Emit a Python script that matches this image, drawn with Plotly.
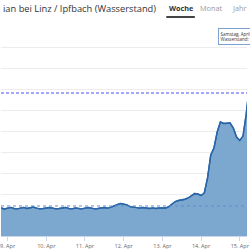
import pandas as pd
import plotly.graph_objects as go

# ---- data ----
times = pd.date_range("2023-04-08 18:00", periods=79, freq="2h")
levels = [
    13.1, 13.3, 12.9, 13.3, 13.6, 13.1, 12.9, 13.3, 13.6, 13.1,
    13.3, 13.8, 13.3, 12.9, 13.1, 13.3, 13.6, 13.3, 12.9, 13.1,
    13.3, 13.6, 13.1, 12.9, 13.3, 13.1, 12.9, 13.3, 13.6, 13.3,
    12.9, 13.1, 13.3, 13.6, 13.3, 13.6,
    14.3, 15.0, 15.5, 15.2, 14.8, 14.0, 13.8, 13.6, 13.3, 13.6,
    13.3, 13.1, 13.3, 13.1, 13.3, 13.2, 13.3, 14.0, 15.2, 16.4,
    16.9, 17.1, 17.5, 18.1, 19.3, 20.2, 20.0, 19.3, 20.5, 27.6,
    38.6, 41.9, 49.5, 54.3, 53.6, 53.6, 53.8, 51.4, 47.1, 45.5,
    47.6, 58.0, 72.0,
]
warn_level = 68.1
mean_level = 14.3
title_text = "ian bei Linz / Ipfbach (Wasserstand)"
tabs = ["Woche", "Monat", "Jahr"]
tooltip_lines = ["Samstag, April 15, 04:00", "Wasserstand: 60 cm"]
x_start = "2023-04-08 19:55"
x_end = "2023-04-15 04:29"

W, H = 250, 250
T, B = 26, 14
PH = H - T - B


def py(pix):
    return (H - B - pix) / PH


fig = go.Figure()
fig.add_trace(go.Scatter(
    x=times, y=levels, mode="lines", fill="tozeroy",
    fillcolor="#7ca8cf", line=dict(color="#2a65a8", width=1.4),
    hoverinfo="skip", showlegend=False,
))

fig.add_shape(type="line", xref="paper", yref="y", x0=0, x1=1,
              y0=mean_level, y1=mean_level,
              line=dict(color="#5a8fd2", width=1, dash="3px,3px"), layer="above")
fig.add_shape(type="line", xref="paper", yref="y", x0=0, x1=1,
              y0=warn_level, y1=warn_level,
              line=dict(color="#4d4dff", width=1.2, dash="3px,2px"), layer="above")
# redraw data line above the mean line
fig.add_trace(go.Scatter(
    x=times, y=levels, mode="lines",
    line=dict(color="#2a65a8", width=1.4),
    hoverinfo="skip", showlegend=False,
))

# header
fig.add_annotation(text=title_text, xref="paper", yref="paper",
                   x=0, y=py(8), xanchor="left", yanchor="middle",
                   showarrow=False,
                   font=dict(family="Open Sans", size=9.3, color="#333333"))
tab_x = [183, 213.5, 242]
tab_col = ["#333333", "#999999", "#999999"]
for t, xx, cc in zip(tabs, tab_x, tab_col):
    fig.add_annotation(text=("<b>%s</b>" % t) if t == "Woche" else t,
                       xref="paper", yref="paper", x=xx / W, y=py(8),
                       xanchor="center", yanchor="middle", showarrow=False,
                       font=dict(family="Open Sans", size=7.3, color=cc))
fig.add_shape(type="line", xref="paper", yref="paper",
              x0=168 / W, x1=197 / W, y0=py(17), y1=py(17),
              line=dict(color="#444444", width=2))

fig.add_annotation(text="<br>".join(tooltip_lines), xref="paper", yref="paper",
                   x=221 / W, y=py(28), xanchor="left", yanchor="top",
                   align="left", showarrow=False,
                   bgcolor="rgba(255,255,255,0.9)", bordercolor="#7aa1d2",
                   borderwidth=1, borderpad=1.5,
                   font=dict(family="Open Sans", size=4.5, color="#333333"))

fig.update_layout(
    width=W, height=H, margin=dict(l=0, r=0, t=T, b=B),
    paper_bgcolor="white", plot_bgcolor="white",
    xaxis=dict(range=[x_start, x_end], type="date", dtick=86400000,
               tick0="2023-04-09", tickformat="%-d. %b",
               ticks="outside", ticklen=4, tickcolor="#ccd6eb",
               showgrid=False, showline=True, linecolor="#ccd6eb",
               ticklabeloverflow="allow",
               tickfont=dict(family="Open Sans", size=5.5, color="#666666")),
    yaxis=dict(range=[0, 100], dtick=10, tick0=0, showticklabels=False,
               showgrid=True, gridcolor="#ececec", gridwidth=1,
               zeroline=False),
)

fig.write_html("out.html")
